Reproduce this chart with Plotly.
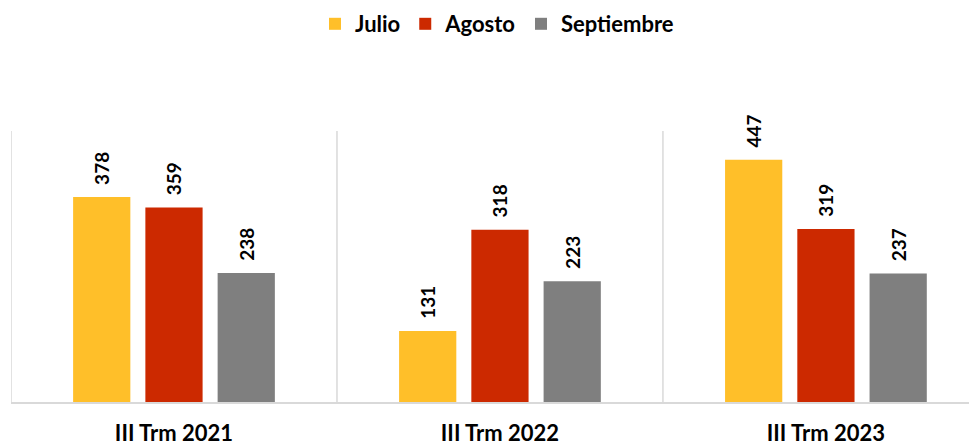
import plotly.graph_objects as go

categories = ["III Trm 2021", "III Trm 2022", "III Trm 2023"]
series_names = ["Julio", "Agosto", "Septiembre"]
julio = [378, 131, 447]
agosto = [359, 318, 319]
septiembre = [238, 223, 237]
colors = ["#FFBF29", "#CC2900", "#7F7F7F"]

fig = go.Figure()
for name, vals, col in zip(series_names, [julio, agosto, septiembre], colors):
    fig.add_trace(go.Bar(
        name=name, x=categories, y=vals,
        marker=dict(color=col, line=dict(width=0)),
        text=vals, texttemplate="\u00a0\u00a0%{text}",
        textposition="outside", textangle=-90,
        textfont=dict(family="Lato", size=19, color="#000000", weight="bold"),
        cliponaxis=False,
    ))

line_col = "#D9D9D9"
for b in [-0.5, 0.5, 1.5]:
    fig.add_shape(type="line", xref="x", yref="paper", x0=b, x1=b, y0=0, y1=1,
                  line=dict(color=line_col, width=1.5), layer="below")

fig.update_layout(
    width=977, height=448,
    margin=dict(l=3, r=0, t=123, b=54, autoexpand=False),
    paper_bgcolor="white", plot_bgcolor="white",
    barmode="group", bargap=0.335, bargroupgap=0.208,
    font=dict(family="Lato", color="#000000"),
    legend=dict(orientation="h", x=(497 - 8) / 977, xanchor="center", xref="container",
                y=1 - 16 / 448, yref="container", yanchor="middle",
                font=dict(family="Lato", size=22, color="#000000", weight="bold"),
                traceorder="normal"),
    showlegend=True,
)
fig.update_xaxes(range=[-0.5, 2.488], showgrid=False, showline=True, linecolor=line_col, linewidth=1.5,
                 ticks="", ticklabelstandoff=11, automargin=False,
                 tickfont=dict(family="Lato", size=22, color="#000000", weight="bold"))
fig.update_yaxes(range=[0, 500], showgrid=False, showticklabels=False, zeroline=False, showline=False,
                 automargin=False)

fig.write_html("out.html")
